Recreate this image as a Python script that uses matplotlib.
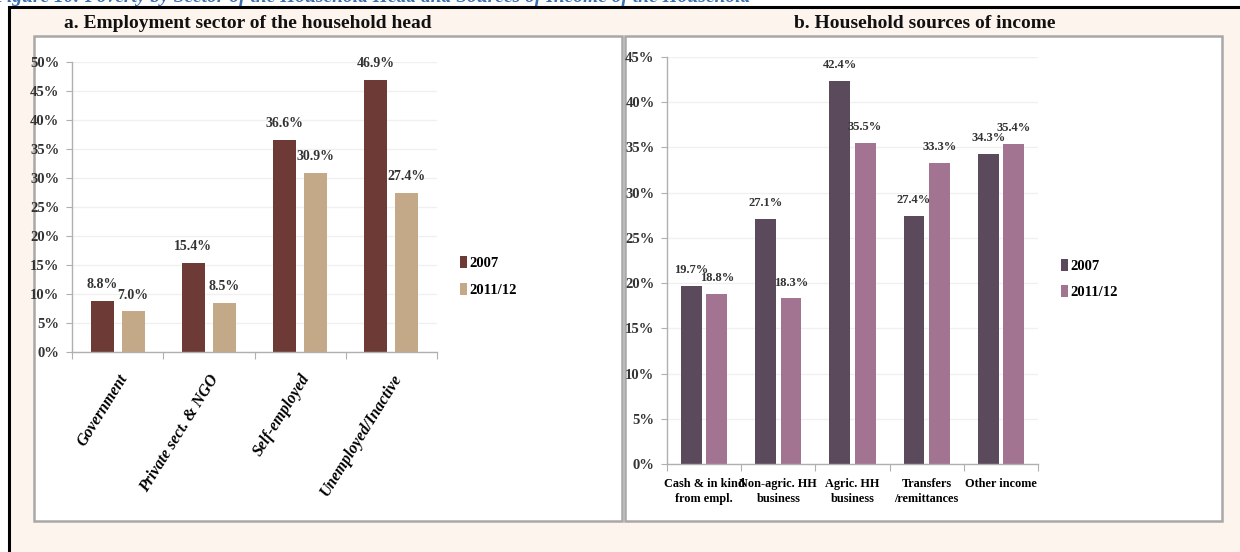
import matplotlib
matplotlib.use('Agg')
import matplotlib.pyplot as plt
from matplotlib.patches import Rectangle
import numpy as np

# Data
sectors = ['Government', 'Private sect. & NGO', 'Self-employed', 'Unemployed/Inactive']
sector_2007 = [8.8, 15.4, 36.6, 46.9]
sector_2011 = [7.0, 8.5, 30.9, 27.4]

sources = ['Cash & in kind\nfrom empl.', 'Non-agric. HH\nbusiness', 'Agric. HH\nbusiness',
           'Transfers\n/remittances', 'Other income']
source_2007 = [19.7, 27.1, 42.4, 27.4, 34.3]
source_2011 = [18.8, 18.3, 35.5, 33.3, 35.4]

series_labels = ['2007', '2011/12']

W, H = 1240, 552
fig = plt.figure(figsize=(W / 100, H / 100), dpi=100)
fig.patch.set_facecolor('white')
plt.rcParams['font.family'] = ['Liberation Serif', 'DejaVu Serif']


def box(x0, y0, x1, y1):
    # pixel box (top-left origin) -> figure fraction [left, bottom, width, height]
    return [x0 / W, 1 - y1 / H, (x1 - x0) / W, (y1 - y0) / H]


# Cut-off caption at the very top
fig.text(-0.005, 1 - 1.5 / H, 'Figure 10: Poverty by Sector of the Household Head and Sources of Income of the Household',
         color='#3A6FB0', fontsize=14, fontweight='bold', fontstyle='italic', va='baseline', ha='left')

# Outer frame with cream fill (right and bottom edges fall outside the picture)
fig.patches.append(Rectangle((9 / W, -0.1), 1.0, 1.1 - 7 / H, transform=fig.transFigure,
                             facecolor='#FDF4EE', edgecolor='black', linewidth=2.2, zorder=1))

# Panel boxes
for b in [box(34, 36, 622, 521), box(625, 36, 1222, 521)]:
    fig.patches.append(Rectangle((b[0], b[1]), b[2], b[3], transform=fig.transFigure,
                                 facecolor='white', edgecolor='#A8A8A8', linewidth=1.8, zorder=2))

# Headings
fig.text(248 / W, 1 - 23 / H, 'a. Employment sector of the household head', ha='center', va='center',
         fontsize=14, fontweight='bold', color='#111111')
fig.text(925 / W, 1 - 23 / H, 'b. Household sources of income', ha='center', va='center',
         fontsize=14, fontweight='bold', color='#111111')


def style_axes(ax, ymax):
    ax.set_facecolor('none')
    for s in ['top', 'right']:
        ax.spines[s].set_visible(False)
    for s in ['left', 'bottom']:
        ax.spines[s].set_color('#B0B0B0')
        ax.spines[s].set_linewidth(1.0)
    ax.set_ylim(0, ymax)
    ax.set_yticks(np.arange(0, ymax + 0.1, 5))
    ax.set_yticklabels([f'{int(v)}%' for v in np.arange(0, ymax + 0.1, 5)])
    ax.yaxis.grid(True, color='#F0F0F0', linewidth=1.0)
    ax.set_axisbelow(True)
    ax.tick_params(axis='y', length=4, color='#B0B0B0', labelsize=10.5, pad=5)
    for t in ax.get_yticklabels():
        t.set_fontweight('bold')
        t.set_color('#333333')


# Panel a
ax1 = fig.add_axes(box(72, 62, 437, 352), zorder=3)
x = np.arange(len(sectors))
bw = 0.25
b1 = ax1.bar(x - 0.17, sector_2007, bw, color='#6E3A36', label=series_labels[0])
b2 = ax1.bar(x + 0.17, sector_2011, bw, color='#C4A988', label=series_labels[1])
style_axes(ax1, 50)
ax1.set_xlim(-0.5, len(sectors) - 0.5)
ax1.set_xticks(np.arange(-0.5, len(sectors) - 0.4, 1))
ax1.set_xticklabels([])
ax1.set_xticks(x, minor=True)
ax1.set_xticklabels(sectors, minor=True, rotation=58, ha='right', rotation_mode='anchor',
                    fontsize=11.5, fontweight='bold', fontstyle='italic')
ax1.tick_params(axis='x', which='major', length=5, color='#B0B0B0', direction='out')
ax1.tick_params(axis='x', which='minor', length=0, pad=14)
for bars in (b1, b2):
    ax1.bar_label(bars, labels=[f'{v:.1f}%' for v in bars.datavalues], padding=7,
                  fontsize=10, fontweight='bold', color='#333333')
ax1.legend(loc='upper left', bbox_to_anchor=(447 / W, 1 - 243 / H), bbox_transform=fig.transFigure,
           frameon=False, handlelength=0.45, handleheight=0.9, handletextpad=0.2, labelspacing=0.85,
           prop={'weight': 'bold', 'size': 10.5})

# Panel b
ax2 = fig.add_axes(box(667, 57, 1038, 464), zorder=3)
x2 = np.arange(len(sources))
bw2 = 0.28
c1 = ax2.bar(x2 - 0.17, source_2007, bw2, color='#5B4A5C', label=series_labels[0])
c2 = ax2.bar(x2 + 0.17, source_2011, bw2, color='#A27492', label=series_labels[1])
style_axes(ax2, 45)
ax2.set_xlim(-0.5, len(sources) - 0.5)
ax2.set_xticks(np.arange(-0.5, len(sources) - 0.4, 1))
ax2.set_xticklabels([])
ax2.set_xticks(x2, minor=True)
ax2.set_xticklabels(sources, minor=True, fontsize=8.8, fontweight='bold', linespacing=1.3)
ax2.tick_params(axis='x', which='major', length=5, color='#B0B0B0', direction='out')
ax2.tick_params(axis='x', which='minor', length=0, pad=10)
for bars in (c1, c2):
    ax2.bar_label(bars, labels=[f'{v:.1f}%' for v in bars.datavalues], padding=7,
                  fontsize=9, fontweight='bold', color='#333333')
ax2.legend(loc='upper left', bbox_to_anchor=(1048 / W, 1 - 246 / H), bbox_transform=fig.transFigure,
           frameon=False, handlelength=0.45, handleheight=0.9, handletextpad=0.2, labelspacing=0.8,
           prop={'weight': 'bold', 'size': 10.5})

fig.savefig('out.png', dpi=100)
